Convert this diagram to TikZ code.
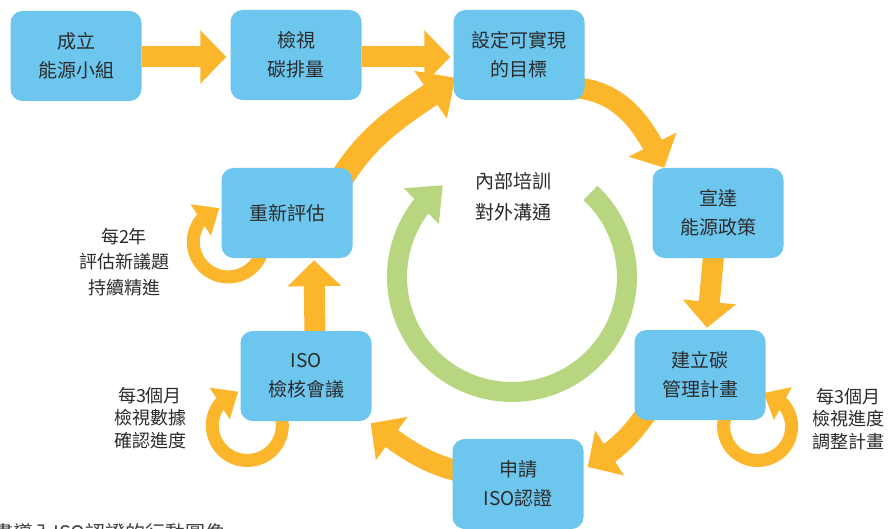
\documentclass[tikz,border=0pt]{standalone}
\usepackage{fontspec}
\newfontfamily\cjk{Noto Sans CJK TC}
\usetikzlibrary{arrows.meta,bending}
\definecolor{boxblue}{HTML}{6DC6EE}
\definecolor{arrorange}{HTML}{FBB62B}
\definecolor{ringgreen}{HTML}{B7D67F}
\definecolor{txt}{HTML}{2B2B2B}
\pgfdeclarelayer{bg}
\pgfsetlayers{bg,main}
\tikzset{
  box/.style={fill=boxblue, rounded corners=12pt, minimum width=131pt, minimum height=90pt,
    inner sep=0pt, align=center, text=txt, font=\cjk\fontsize{19}{29}\selectfont},
  flow/.style={draw=arrorange, line width=21pt, -{Triangle[length=26pt,width=52pt]}},
  selfloop/.style={draw=arrorange, line width=13pt, -{Triangle[length=22pt,width=36pt]}},
  ring/.style={draw=ringgreen, line width=20pt, -{Triangle[length=30pt,width=48pt]}},
  note/.style={align=center, text=txt, inner sep=0pt},
}
\begin{document}
\begin{tikzpicture}[x=1pt,y=1pt]
\useasboundingbox (0,0) rectangle (890,-529);

% boxes
\node[box] (b1) at (76,-56) {成立\\能源小組};
\node[box] (b2) at (296,-55) {檢視\\碳排量};
\node[box] (b3) at (519,-55) {設定可實現\\的目標};
\node[box] (b4) at (718,-213) {宣達\\能源政策};
\node[box] (b5) at (700,-375) {建立碳\\管理計畫};
\node[box] (b6) at (518,-484) {申請\\ISO認證};
\node[box] (b7) at (306,-376) {ISO\\檢核會議};
\node[box] (b8) at (287,-213) {重新評估};

% notes
\node[note, font=\cjk\fontsize{18}{25.5}\selectfont] (n8) at (124,-262) {每2年\\評估新議題\\持續精進};
\node[note, font=\cjk\fontsize{18}{22.5}\selectfont] (n7) at (150,-418) {每3個月\\檢視數據\\確認進度};
\node[note, font=\cjk\fontsize{18}{22.5}\selectfont] (n5) at (848,-419) {每3個月\\檢視進度\\調整計畫};
\node[note, font=\cjk\fontsize{19}{31}\selectfont] (center) at (513,-197) {內部培訓\\對外溝通};

% caption (cut by the lower edge)
\node[anchor=base west, inner sep=0pt, text=txt!90, font=\cjk\fontsize{20}{20}\selectfont] (cap) at (-7,-540) {畫導入ISO認證的行動圖像};

\begin{pgfonlayer}{bg}
  \fill[white] (0,0) rectangle (890,-529);
  % main flow
  \draw[flow] ([yshift=-1pt]b1.east) -- ([xshift=-4pt,yshift=-2pt]b2.west);
  \draw[flow] ([yshift=-2pt]b2.east) -- ([xshift=-3pt,yshift=-2pt]b3.west);
  \draw[flow, line width=24pt, -{Triangle[length=30pt,width=56pt]}] ([shift={(-12pt,-12pt)}]b8.north east) to[out=58,in=215] ([shift={(2pt,-68pt)}]b3.north west);
  \draw[flow] ([shift={(-9pt,-78pt)}]b3.north east) to[out=-5,in=115] ([shift={(12pt,0pt)}]b4.north west);
  \draw[flow] ([shift={(-4pt,8pt)}]b4.south) -- ([shift={(7pt,2pt)}]b5.north);
  \draw[flow] ([shift={(13pt,8pt)}]b5.south west) to[out=235,in=30] ([shift={(4pt,17pt)}]b6.east);
  \draw[flow] ([shift={(5pt,13pt)}]b6.west) to[out=165,in=-36] ([shift={(-1pt,-2pt)}]b7.south east);
  \draw[flow] ([shift={(9pt,-5pt)}]b7.north) -- ([shift={(27pt,-2pt)}]b8.south);
  % self loops
  \draw[selfloop] ([shift={(40.8pt,7.2pt)}]b8.south west) arc[start angle=-15, end angle=-255, radius=35];
  \draw[selfloop] ([shift={(40.8pt,4.8pt)}]b7.south west) arc[start angle=15, end angle=-255, radius=35];
  \draw[selfloop] ([shift={(-40pt,5.3pt)}]b5.south east) arc[start angle=160, end angle=440, radius=34];
  % green ring
  \coordinate (rc) at (512,-277);
  \draw[ring] ([shift={(47:115)}]rc) arc[start angle=47, end angle=-233, radius=115];
\end{pgfonlayer}
\end{tikzpicture}
\end{document}
